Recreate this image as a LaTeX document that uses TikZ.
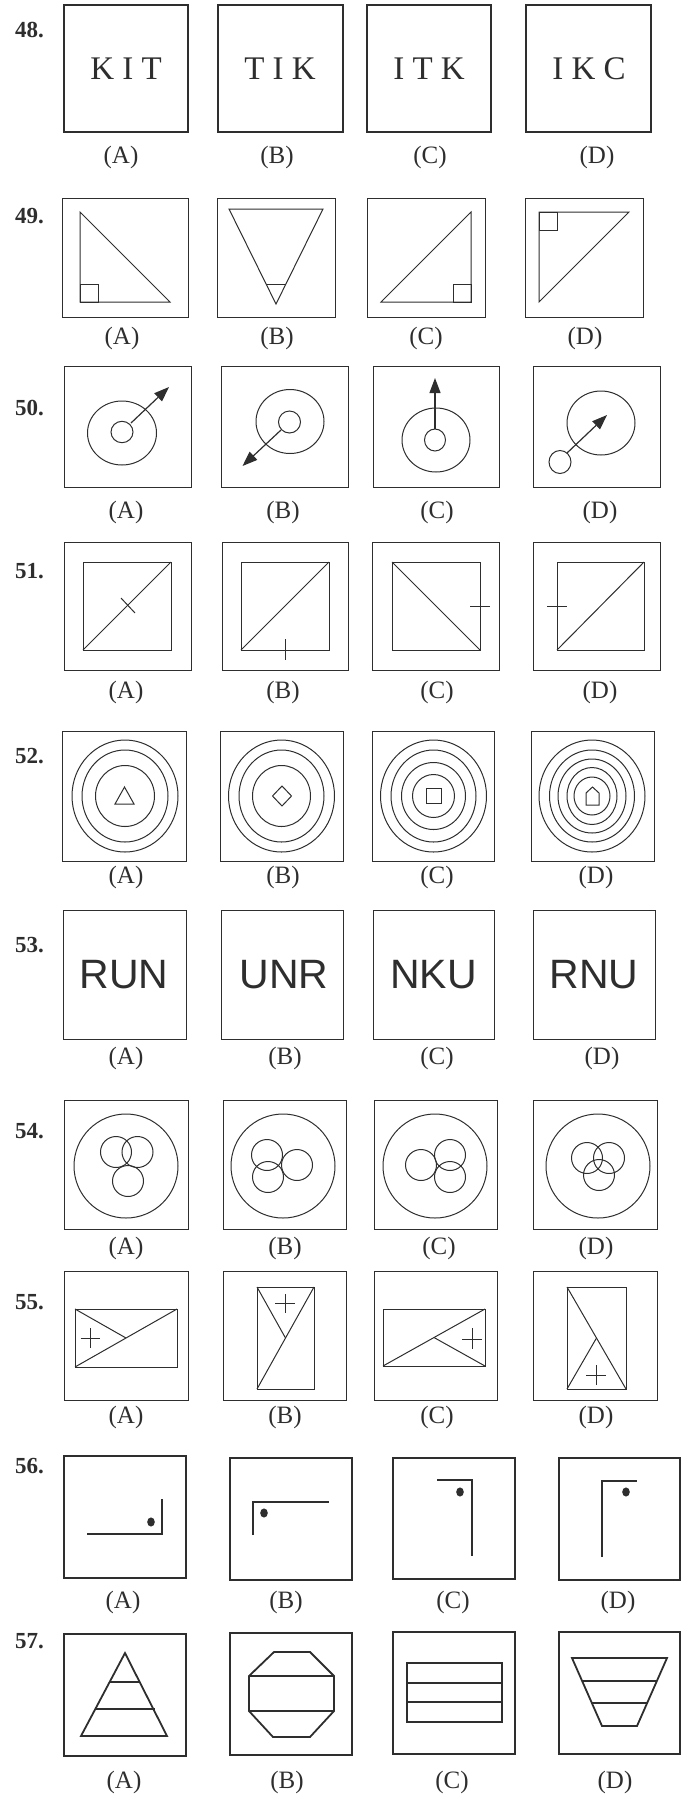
\documentclass[tikz,border=0pt]{standalone}
\usepackage{fontspec}
\setmainfont{Liberation Serif}
\newfontfamily\arialf{Liberation Sans}
\usetikzlibrary{arrows.meta}
\definecolor{ink}{HTML}{2E2E2E}
\begin{document}
\begin{tikzpicture}[x=1pt,y=-1pt,line join=miter,
  thinbox/.style={draw=ink,line width=1pt},
  thickbox/.style={draw=ink,line width=1.8pt},
  fig/.style={draw=ink,line width=1pt},
  figthick/.style={draw=ink,line width=1.8pt},
  arr/.style={draw=ink,line width=1.2pt,-{Triangle[length=15pt,width=11pt]}},
  qnum/.style={font=\fontsize{23}{26}\selectfont\bfseries,text=ink,anchor=base west,inner sep=0},
  opt/.style={font=\fontsize{25}{28}\selectfont,text=ink,inner sep=0},
  serifword/.style={font=\fontsize{33}{36}\selectfont,text=ink,inner sep=0},
  sansword/.style={font=\fontsize{41}{44}\selectfont\arialf,text=ink,inner sep=0},
  dot/.style={fill=ink,draw=none}]
\useasboundingbox (0,0) rectangle (681,1797);

% ---------- 48 ----------
\node[qnum] (q48) at (15,37) {48.};
\draw[thickbox] (64,5) rectangle (188,132);
\draw[thickbox] (218,5) rectangle (343,132);
\draw[thickbox] (367,5) rectangle (491,132);
\draw[thickbox] (526,5) rectangle (651,132);
\node[serifword] (w48a) at (126,69) {K I T};
\node[serifword] (w48b) at (280,69) {T I K};
\node[serifword] (w48c) at (429,69) {I T K};
\node[serifword] (w48d) at (589,69) {I K C};
\node[opt] (l48a) at (121,157) {(A)};
\node[opt] (l48b) at (277,157) {(B)};
\node[opt] (l48c) at (430,157) {(C)};
\node[opt] (l48d) at (597,157) {(D)};

% ---------- 49 ----------
\node[qnum] (q49) at (15,223) {49.};
\draw[thinbox] (62,198) rectangle (188,317);
\draw[thinbox] (217,198) rectangle (335,317);
\draw[thinbox] (367,198) rectangle (485,317);
\draw[thinbox] (525,198) rectangle (643,317);
\draw[fig] (80,212) -- (80,302) -- (170,302) -- cycle;
\draw[fig] (80,284) rectangle (98,302);
\draw[fig] (229,209) -- (323,209) -- (276,304) -- cycle;
\draw[fig] (267,284) -- (285.5,284);
\draw[fig] (471,212) -- (471,302) -- (381,302) -- cycle;
\draw[fig] (453,284) rectangle (471,302);
\draw[fig] (539,212) -- (629,212) -- (539,302) -- cycle;
\draw[fig] (539,212) rectangle (557,230);
\node[opt] (l49a) at (122,338) {(A)};
\node[opt] (l49b) at (277,338) {(B)};
\node[opt] (l49c) at (426,338) {(C)};
\node[opt] (l49d) at (585,338) {(D)};

% ---------- 50 ----------
\node[qnum] (q50) at (15,415) {50.};
\draw[thinbox] (64,366) rectangle (191,487);
\draw[thinbox] (221,366) rectangle (348,487);
\draw[thinbox] (373,366) rectangle (499,487);
\draw[thinbox] (533,366) rectangle (660,487);
\draw[fig] (122,433) ellipse [x radius=34.5,y radius=32];
\draw[fig] (122,432) ellipse [x radius=11,y radius=10.7];
\draw[arr] (131,423) -- (169,387);
\draw[fig] (290,421.5) ellipse [x radius=34,y radius=32];
\draw[fig] (289.5,422) ellipse [x radius=11,y radius=11];
\draw[arr] (281,430) -- (242.5,466);
\draw[fig] (436,440) ellipse [x radius=34,y radius=32];
\draw[fig] (435,440) ellipse [x radius=10.5,y radius=11];
\draw[arr] (435,429) -- (435,378);
\draw[fig] (601,423) ellipse [x radius=34,y radius=32];
\draw[fig] (560,462) ellipse [x radius=11,y radius=11.5];
\draw[arr] (567,453) -- (607,415);
\node[opt] (l50a) at (126,512) {(A)};
\node[opt] (l50b) at (283,512) {(B)};
\node[opt] (l50c) at (437,512) {(C)};
\node[opt] (l50d) at (600,512) {(D)};

% ---------- 51 ----------
\node[qnum] (q51) at (15,578) {51.};
\draw[thinbox] (64,542) rectangle (191,670);
\draw[thinbox] (222,542) rectangle (348,670);
\draw[thinbox] (372,542) rectangle (499,670);
\draw[thinbox] (533,542) rectangle (660,670);
\draw[fig] (83,562) rectangle (171,650);
\draw[fig] (83,650) -- (171,562);
\draw[fig] (121,598) -- (135,613);
\draw[fig] (241,562) rectangle (329,650);
\draw[fig] (241,650) -- (329,562);
\draw[fig] (285,639) -- (285,660);
\draw[fig] (392,562) rectangle (480,650);
\draw[fig] (392,562) -- (480,650);
\draw[fig] (470,606) -- (490,606);
\draw[fig] (557,562) rectangle (644,650);
\draw[fig] (557,650) -- (644,562);
\draw[fig] (547,606) -- (567,606);
\node[opt] (l51a) at (126,692) {(A)};
\node[opt] (l51b) at (283,692) {(B)};
\node[opt] (l51c) at (437,692) {(C)};
\node[opt] (l51d) at (600,692) {(D)};

% ---------- 52 ----------
\node[qnum] (q52) at (15,763) {52.};
\draw[thinbox] (62,731) rectangle (186,861);
\draw[thinbox] (220,731) rectangle (343,861);
\draw[thinbox] (372,731) rectangle (494,861);
\draw[thinbox] (531,731) rectangle (654,861);
\draw[fig] (125,796) ellipse [x radius=53,y radius=56];
\draw[fig] (125,796) ellipse [x radius=43,y radius=46];
\draw[fig] (125,796) ellipse [x radius=29.5,y radius=30.5];
\draw[fig] (124.5,787) -- (134,804) -- (115,804) -- cycle;
\draw[fig] (281.5,796) ellipse [x radius=53,y radius=56];
\draw[fig] (281.5,796) ellipse [x radius=42.5,y radius=46];
\draw[fig] (281.5,796) ellipse [x radius=29,y radius=30.5];
\draw[fig] (282,786) -- (291.5,796) -- (282,806) -- (272.5,796) -- cycle;
\draw[fig] (433.5,796) ellipse [x radius=53,y radius=56];
\draw[fig] (433.5,796) ellipse [x radius=42.5,y radius=46];
\draw[fig] (433.5,796) ellipse [x radius=32,y radius=33.5];
\draw[fig] (433.5,796) ellipse [x radius=21,y radius=21.5];
\draw[fig] (426,788) rectangle (441,803);
\draw[fig] (592,796) ellipse [x radius=53,y radius=56];
\draw[fig] (592,796) ellipse [x radius=42.5,y radius=46];
\draw[fig] (592,796) ellipse [x radius=34,y radius=37];
\draw[fig] (592,796) ellipse [x radius=25,y radius=28.5];
\draw[fig] (592,796) ellipse [x radius=18,y radius=19];
\draw[fig] (586,805) -- (599,805) -- (599,793) -- (592.5,787) -- (586,793) -- cycle;
\node[opt] (l52a) at (126,877) {(A)};
\node[opt] (l52b) at (283,877) {(B)};
\node[opt] (l52c) at (437,877) {(C)};
\node[opt] (l52d) at (596,877) {(D)};

% ---------- 53 ----------
\node[qnum] (q53) at (15,952) {53.};
\draw[thinbox] (63,910) rectangle (186,1039);
\draw[thinbox] (221,910) rectangle (343,1039);
\draw[thinbox] (373,910) rectangle (494,1039);
\draw[thinbox] (533,910) rectangle (655,1039);
\node[sansword] (w53a) at (124,975) {RUN};
\node[sansword] (w53b) at (284,975) {UNR};
\node[sansword] (w53c) at (433.5,975) {NKU};
\node[sansword] (w53d) at (594,975) {RNU};
\node[opt] (l53a) at (126,1058) {(A)};
\node[opt] (l53b) at (285,1058) {(B)};
\node[opt] (l53c) at (437,1058) {(C)};
\node[opt] (l53d) at (602,1058) {(D)};

% ---------- 54 ----------
\node[qnum] (q54) at (15,1138) {54.};
\draw[thinbox] (64,1100) rectangle (188,1229);
\draw[thinbox] (223,1100) rectangle (346,1229);
\draw[thinbox] (374,1100) rectangle (497,1229);
\draw[thinbox] (533,1100) rectangle (657,1229);
\draw[fig] (126,1166) ellipse [x radius=52,y radius=52];
\draw[fig] (116,1152) ellipse [x radius=15.5,y radius=15.5];
\draw[fig] (137.5,1152) ellipse [x radius=15.5,y radius=15.5];
\draw[fig] (128,1181) ellipse [x radius=15.5,y radius=15.5];
\draw[fig] (283,1166) ellipse [x radius=52,y radius=52];
\draw[fig] (267,1155) ellipse [x radius=15.5,y radius=15.5];
\draw[fig] (268,1177) ellipse [x radius=15.5,y radius=15.5];
\draw[fig] (297,1165) ellipse [x radius=15.5,y radius=15.5];
\draw[fig] (435,1166) ellipse [x radius=52,y radius=52];
\draw[fig] (421,1165) ellipse [x radius=15.5,y radius=15.5];
\draw[fig] (450,1155) ellipse [x radius=15.5,y radius=15.5];
\draw[fig] (450,1177) ellipse [x radius=15.5,y radius=15.5];
\draw[fig] (598,1166) ellipse [x radius=52,y radius=52];
\draw[fig] (587,1158) ellipse [x radius=15.5,y radius=15.5];
\draw[fig] (609,1158) ellipse [x radius=15.5,y radius=15.5];
\draw[fig] (599,1175) ellipse [x radius=15.5,y radius=15.5];
\node[opt] (l54a) at (126,1248) {(A)};
\node[opt] (l54b) at (285,1248) {(B)};
\node[opt] (l54c) at (439,1248) {(C)};
\node[opt] (l54d) at (596,1248) {(D)};

% ---------- 55 ----------
\node[qnum] (q55) at (15,1309) {55.};
\draw[thinbox] (64,1271) rectangle (188,1400);
\draw[thinbox] (223,1271) rectangle (346,1400);
\draw[thinbox] (374,1271) rectangle (497,1400);
\draw[thinbox] (533,1271) rectangle (657,1400);
\draw[fig] (75,1309) rectangle (177,1367);
\draw[fig] (75,1367) -- (177,1309);
\draw[fig] (75,1309) -- (126,1338);
\draw[fig] (80.5,1338) -- (99.5,1338) (90,1328) -- (90,1348);
\draw[fig] (257,1287) rectangle (314,1389);
\draw[fig] (257,1389) -- (314,1287);
\draw[fig] (257,1287) -- (285.5,1338);
\draw[fig] (275,1303) -- (295,1303) (285,1294) -- (285,1313);
\draw[fig] (383,1309) rectangle (485,1366);
\draw[fig] (383,1366) -- (485,1309);
\draw[fig] (485,1366) -- (434,1337.5);
\draw[fig] (462,1339) -- (482,1339) (472,1328) -- (472,1349);
\draw[fig] (567,1287) rectangle (626,1389);
\draw[fig] (567,1287) -- (626,1389);
\draw[fig] (567,1389) -- (596.5,1338);
\draw[fig] (586,1375) -- (606,1375) (596,1365) -- (596,1385);
\node[opt] (l55a) at (126,1417) {(A)};
\node[opt] (l55b) at (285,1417) {(B)};
\node[opt] (l55c) at (437,1417) {(C)};
\node[opt] (l55d) at (596,1417) {(D)};

% ---------- 56 ----------
\node[qnum] (q56) at (15,1473) {56.};
\draw[thickbox] (64,1456) rectangle (186,1578);
\draw[thickbox] (230,1458) rectangle (352,1580);
\draw[thickbox] (393,1458) rectangle (515,1579);
\draw[thickbox] (559,1458) rectangle (680,1580);
\draw[figthick] (87,1534) -- (162,1534) -- (162,1499);
\fill[dot] (151,1522) ellipse [x radius=3.8,y radius=4.6];
\draw[figthick] (253,1535) -- (253,1502) -- (329,1502);
\fill[dot] (264,1513) ellipse [x radius=3.8,y radius=4.6];
\draw[figthick] (437,1480) -- (472,1480) -- (472,1556);
\fill[dot] (460,1492) ellipse [x radius=3.8,y radius=4.6];
\draw[figthick] (602,1557) -- (602,1481) -- (637,1481);
\fill[dot] (626,1492) ellipse [x radius=3.8,y radius=4.6];
\node[opt] (l56a) at (123,1602) {(A)};
\node[opt] (l56b) at (286,1602) {(B)};
\node[opt] (l56c) at (453,1602) {(C)};
\node[opt] (l56d) at (618,1602) {(D)};

% ---------- 57 ----------
\node[qnum] (q57) at (15,1648) {57.};
\draw[thickbox] (64,1634) rectangle (186,1756);
\draw[thickbox] (230,1633) rectangle (352,1755);
\draw[thickbox] (393,1632) rectangle (515,1754);
\draw[thickbox] (559,1632) rectangle (680,1754);
\draw[figthick] (125,1653) -- (167,1736) -- (81,1736) -- cycle;
\draw[figthick] (109.6,1682) -- (140.4,1682);
\draw[figthick] (95.3,1709) -- (154.7,1709);
\draw[figthick] (274,1652) -- (310,1652) -- (334,1676) -- (334,1711) -- (310,1737) -- (273,1737) -- (249,1711) -- (249,1676) -- cycle;
\draw[figthick] (249,1676) -- (334,1676);
\draw[figthick] (249,1711) -- (334,1711);
\draw[figthick] (407,1663) rectangle (502,1722);
\draw[figthick] (407,1683) -- (502,1683);
\draw[figthick] (407,1702) -- (502,1702);
\draw[figthick] (572,1658) -- (667,1658) -- (637,1726) -- (602,1726) -- cycle;
\draw[figthick] (582.1,1681) -- (656.9,1681);
\draw[figthick] (591.9,1703) -- (647.1,1703);
\node[opt] (l57a) at (124,1782) {(A)};
\node[opt] (l57b) at (287,1782) {(B)};
\node[opt] (l57c) at (452,1782) {(C)};
\node[opt] (l57d) at (615,1782) {(D)};
\end{tikzpicture}
\end{document}
